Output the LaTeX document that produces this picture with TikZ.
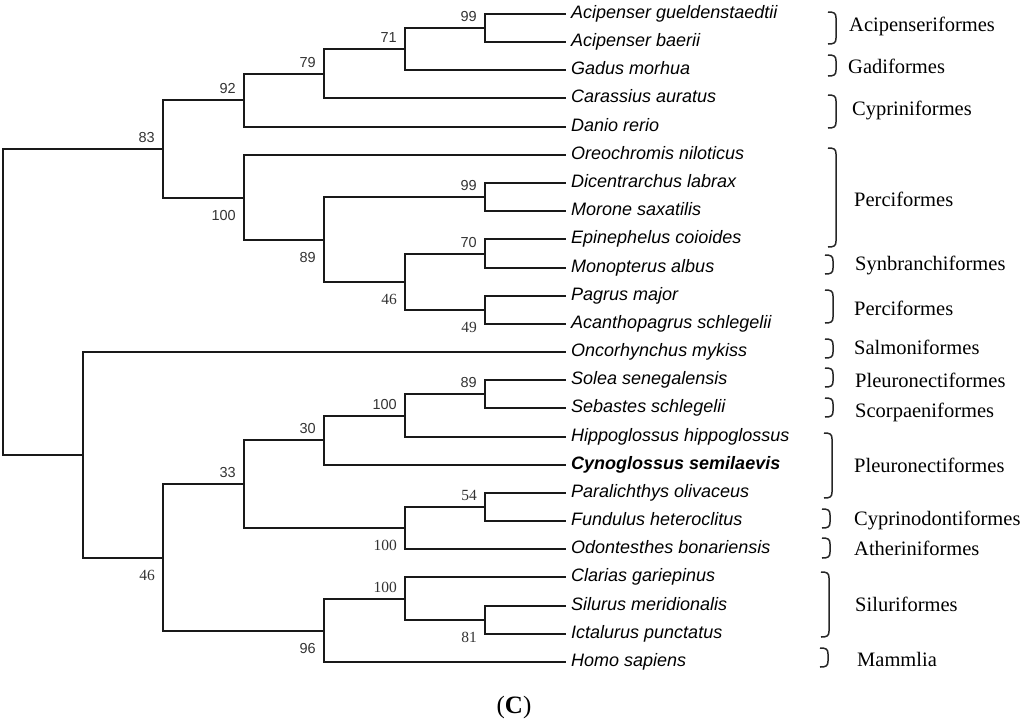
\documentclass[tikz,border=0pt]{standalone}
\usepackage{fontspec}
\setmainfont{Liberation Serif}
\newfontfamily\arialf{Liberation Sans}
\begin{document}
\begin{tikzpicture}[x=1pt,y=-1pt,
  branch/.style={line width=2pt, draw=black!90},
  brk/.style={line width=1.5pt, draw=black!85},
  leaf/.style={font=\arialf\itshape\fontsize{18}{20}\selectfont, anchor=base west, inner sep=0pt},
  bs/.style={font=\arialf\fontsize{14.5}{16}\selectfont, inner sep=0pt, text=black!80},
  bss/.style={font=\fontsize{15.5}{16}\selectfont, inner sep=0pt, text=black!80},
  clade/.style={font=\fontsize{20.5}{22}\selectfont, inner sep=0pt, anchor=base west}]
\useasboundingbox (0,0) rectangle (1024,721);

% leaf tips
\foreach \i/\y in {0/14,1/42,2/70,3/98,4/127,5/155,6/183,7/211,8/239,9/268,10/296,11/324,12/352,13/380,14/408,15/437,16/465,17/493,18/521,19/549,20/577,21/606,22/634,23/662}
  {\coordinate (t\i) at (566,\y);}

% leaf labels
\node[leaf] (l0) at ([xshift=5pt,yshift=-4.7pt]t0) {Acipenser gueldenstaedtii};
\node[leaf] (l1) at ([xshift=5pt,yshift=-4.7pt]t1) {Acipenser baerii};
\node[leaf] (l2) at ([xshift=5pt,yshift=-4.7pt]t2) {Gadus morhua};
\node[leaf] (l3) at ([xshift=5pt,yshift=-4.7pt]t3) {Carassius auratus};
\node[leaf] (l4) at ([xshift=5pt,yshift=-4.7pt]t4) {Danio rerio};
\node[leaf] (l5) at ([xshift=5pt,yshift=-4.7pt]t5) {Oreochromis niloticus};
\node[leaf] (l6) at ([xshift=5pt,yshift=-4.7pt]t6) {Dicentrarchus labrax};
\node[leaf] (l7) at ([xshift=5pt,yshift=-4.7pt]t7) {Morone saxatilis};
\node[leaf] (l8) at ([xshift=5pt,yshift=-4.7pt]t8) {Epinephelus coioides};
\node[leaf] (l9) at ([xshift=5pt,yshift=-4.7pt]t9) {Monopterus albus};
\node[leaf] (l10) at ([xshift=5pt,yshift=-4.7pt]t10) {Pagrus major};
\node[leaf] (l11) at ([xshift=5pt,yshift=-4.7pt]t11) {Acanthopagrus schlegelii};
\node[leaf] (l12) at ([xshift=5pt,yshift=-4.7pt]t12) {Oncorhynchus mykiss};
\node[leaf] (l13) at ([xshift=5pt,yshift=-4.7pt]t13) {Solea senegalensis};
\node[leaf] (l14) at ([xshift=5pt,yshift=-4.7pt]t14) {Sebastes schlegelii};
\node[leaf] (l15) at ([xshift=5pt,yshift=-4.7pt]t15) {Hippoglossus hippoglossus};
\node[leaf] (l16) at ([xshift=5pt,yshift=-4.7pt]t16) {\bfseries Cynoglossus semilaevis};
\node[leaf] (l17) at ([xshift=5pt,yshift=-4.7pt]t17) {Paralichthys olivaceus};
\node[leaf] (l18) at ([xshift=5pt,yshift=-4.7pt]t18) {Fundulus heteroclitus};
\node[leaf] (l19) at ([xshift=5pt,yshift=-4.7pt]t19) {Odontesthes bonariensis};
\node[leaf] (l20) at ([xshift=5pt,yshift=-4.7pt]t20) {Clarias gariepinus};
\node[leaf] (l21) at ([xshift=5pt,yshift=-4.7pt]t21) {Silurus meridionalis};
\node[leaf] (l22) at ([xshift=5pt,yshift=-4.7pt]t22) {Ictalurus punctatus};
\node[leaf] (l23) at ([xshift=5pt,yshift=-4.7pt]t23) {Homo sapiens};

% internal nodes
\coordinate (n99a) at (485,28);
\coordinate (n71) at (405,49);
\coordinate (n79) at (324,74);
\coordinate (n92) at (244,100);
\coordinate (n99b) at (485,197);
\coordinate (n70) at (485,254);
\coordinate (n49) at (485,310);
\coordinate (n46a) at (405,282);
\coordinate (n89a) at (324,240);
\coordinate (n100a) at (244,198);
\coordinate (n83) at (163,149);
\coordinate (n89b) at (485,394);
\coordinate (n100b) at (405,416);
\coordinate (n30) at (324,440);
\coordinate (n54) at (485,507);
\coordinate (n100c) at (405,528);
\coordinate (n33) at (244,484);
\coordinate (n81) at (485,620);
\coordinate (n100d) at (405,599);
\coordinate (n96) at (324,631);
\coordinate (n46b) at (163,558);
\coordinate (nL) at (83,455);
\coordinate (root) at (3,302);

% branches
\draw[branch] (root) |- (n83);
\draw[branch] (root) |- (nL);
\draw[branch] (n83) |- (n92);
\draw[branch] (n83) |- (n100a);
\draw[branch] (n92) |- (n79);
\draw[branch] (n92) |- (t4);
\draw[branch] (n79) |- (n71);
\draw[branch] (n79) |- (t3);
\draw[branch] (n71) |- (n99a);
\draw[branch] (n71) |- (t2);
\draw[branch] (n99a) |- (t0);
\draw[branch] (n99a) |- (t1);
\draw[branch] (n100a) |- (t5);
\draw[branch] (n100a) |- (n89a);
\draw[branch] (n89a) |- (n99b);
\draw[branch] (n89a) |- (n46a);
\draw[branch] (n99b) |- (t6);
\draw[branch] (n99b) |- (t7);
\draw[branch] (n46a) |- (n70);
\draw[branch] (n46a) |- (n49);
\draw[branch] (n70) |- (t8);
\draw[branch] (n70) |- (t9);
\draw[branch] (n49) |- (t10);
\draw[branch] (n49) |- (t11);
\draw[branch] (nL) |- (t12);
\draw[branch] (nL) |- (n46b);
\draw[branch] (n46b) |- (n33);
\draw[branch] (n46b) |- (n96);
\draw[branch] (n33) |- (n30);
\draw[branch] (n33) |- (n100c);
\draw[branch] (n30) |- (n100b);
\draw[branch] (n30) |- (t16);
\draw[branch] (n100b) |- (n89b);
\draw[branch] (n100b) |- (t15);
\draw[branch] (n89b) |- (t13);
\draw[branch] (n89b) |- (t14);
\draw[branch] (n100c) |- (n54);
\draw[branch] (n100c) |- (t19);
\draw[branch] (n54) |- (t17);
\draw[branch] (n54) |- (t18);
\draw[branch] (n96) |- (n100d);
\draw[branch] (n96) |- (t23);
\draw[branch] (n100d) |- (t20);
\draw[branch] (n100d) |- (n81);
\draw[branch] (n81) |- (t21);
\draw[branch] (n81) |- (t22);

% bootstrap values (above)
\node[bs, anchor=south east] (b99a) at ([xshift=-8pt,yshift=6pt]n99a) {99};
\node[bs, anchor=south east] (b71) at ([xshift=-8pt,yshift=6pt]n71) {71};
\node[bs, anchor=south east] (b79) at ([xshift=-8pt,yshift=6pt]n79) {79};
\node[bs, anchor=south east] (b92) at ([xshift=-8pt,yshift=6pt]n92) {92};
\node[bs, anchor=south east] (b83) at ([xshift=-8pt,yshift=6pt]n83) {83};
\node[bs, anchor=south east] (b99b) at ([xshift=-8pt,yshift=6pt]n99b) {99};
\node[bs, anchor=south east] (b70) at ([xshift=-8pt,yshift=6pt]n70) {70};
\node[bs, anchor=south east] (b89b) at ([xshift=-8pt,yshift=6pt]n89b) {89};
\node[bs, anchor=south east] (b100b) at ([xshift=-8pt,yshift=6pt]n100b) {100};
\node[bs, anchor=south east] (b30) at ([xshift=-8pt,yshift=6pt]n30) {30};
\node[bs, anchor=south east] (b33) at ([xshift=-8pt,yshift=6pt]n33) {33};
\node[bss, anchor=south east] (b54) at ([xshift=-8pt,yshift=6pt]n54) {54};
\node[bss, anchor=south east] (b100d) at ([xshift=-8pt,yshift=6pt]n100d) {100};
% bootstrap values (below)
\node[bs, anchor=north east] (b100a) at ([xshift=-8pt,yshift=-12pt]n100a) {100};
\node[bs, anchor=north east] (b89a) at ([xshift=-8pt,yshift=-12pt]n89a) {89};
\node[bss, anchor=north east] (b46a) at ([xshift=-8pt,yshift=-12pt]n46a) {46};
\node[bss, anchor=north east] (b49) at ([xshift=-8pt,yshift=-12pt]n49) {49};
\node[bss, anchor=north east] (b100c) at ([xshift=-8pt,yshift=-12pt]n100c) {100};
\node[bss, anchor=north east] (b81) at ([xshift=-8pt,yshift=-12pt]n81) {81};
\node[bs, anchor=north east] (b96) at ([xshift=-8pt,yshift=-12pt]n96) {96};
\node[bss, anchor=north east] (b46b) at ([xshift=-8pt,yshift=-12pt]n46b) {46};

% clade brackets
\newcommand\cladebr[7]{%
  \draw[brk] (#2-8,#3) .. controls (#2-2,#3) and (#2,#3+1) .. (#2,#3+6) -- (#2,#4-6) .. controls (#2,#4-1) and (#2-2,#4) .. (#2-8,#4);
  \node[clade] (#1) at (#5,#6) {#7};}
\cladebr{c1}{836}{12}{44}{849}{31.7}{Acipenseriformes}
\cladebr{c2}{836}{55}{76}{848}{73.3}{Gadiformes}
\cladebr{c3}{836}{95}{128}{852}{115}{Cypriniformes}
\cladebr{c4}{836}{148}{247}{854}{206.7}{Perciformes}
\cladebr{c5}{833}{255}{274}{855}{270.7}{Synbranchiformes}
\cladebr{c6}{833}{290}{323}{854}{315}{Perciformes}
\cladebr{c7}{833}{339}{358}{854}{354.3}{Salmoniformes}
\cladebr{c8}{833}{368}{387}{855}{387.7}{Pleuronectiformes}
\cladebr{c9}{833}{398}{417}{855}{417.3}{Scorpaeniformes}
\cladebr{c10}{832}{433}{498}{854}{472.3}{Pleuronectiformes}
\cladebr{c11}{830}{509}{528}{854}{525}{Cyprinodontiformes}
\cladebr{c12}{830}{538}{558}{854}{555}{Atheriniformes}
\cladebr{c13}{829}{572}{637}{855}{611.7}{Siluriformes}
\cladebr{c14}{828}{648}{667}{857}{666}{Mammlia}

% caption
\node[font=\fontsize{25}{27}\selectfont, inner sep=0pt, anchor=base] (cap) at (514,713) {(\textbf{C})};
\end{tikzpicture}
\end{document}
